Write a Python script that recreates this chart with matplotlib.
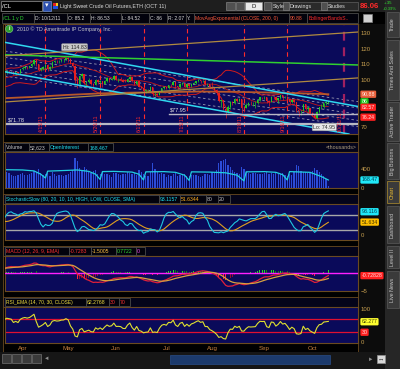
import numpy as np
import pandas as pd
import matplotlib
matplotlib.use('Agg')
import matplotlib.pyplot as plt
from matplotlib.patches import Rectangle

plt.rcParams['font.family'] = ['Liberation Sans', 'DejaVu Sans']

# ---------------- data ----------------
holidays = ['2011-04-22', '2011-05-30', '2011-07-04', '2011-09-05']
first_day = '2011-02-22'
view_start = '2011-03-23'

opens = [91.0, 95.5, 98.0, 97.4, 97.8,
         97.1, 99.7, 101.8, 101.6, 104.6, 105.3, 105.0, 104.3, 102.6, 101.3, 101.0, 97.3, 98.0, 101.5, 101.3, 102.4, 104.8, 105.7, 105.6, 105.3, 104.0, 104.8, 104.3,
         106.8, 107.9, 108.5, 108.4, 108.8, 110.3, 112.6, 109.9, 106.3, 107.1, 108.1, 109.6, 107.1, 108.2, 111.5, 112.2, 112.0, 112.2, 112.8, 112.9,
         113.9, 113.5, 111.1, 109.2, 99.8, 97.2, 102.6, 103.9, 98.2, 99.0, 99.7, 97.4, 96.9, 100.1, 98.4, 99.5, 97.7, 99.6, 101.3, 100.2, 100.6,
         102.7, 100.3, 100.4, 100.2, 99.0, 98.9, 100.7, 101.9, 99.3, 97.3, 99.4, 95.8, 95.0, 93.0, 93.3, 93.4, 95.4, 91.0, 91.2, 90.6, 92.9, 94.8,
         95.4, 94.9, 96.9, 96.7, 98.7, 96.2, 95.2, 97.4, 98.1, 95.7, 97.2, 95.9, 97.5, 98.1, 99.1, 99.9, 99.2, 99.6, 97.4, 97.4,
         95.7, 94.9, 93.8, 91.9, 86.6, 86.9, 81.3, 79.3, 82.9, 85.7, 85.4, 87.9, 86.7, 87.6, 82.4, 82.3, 84.1, 85.4, 85.2, 85.3, 85.4, 87.3, 88.9,
         88.8, 88.9, 86.5, 86.0, 89.3, 89.1, 87.2, 88.2, 90.2, 88.9, 89.4, 88.0, 85.7, 86.9, 85.9, 80.5, 79.9, 80.2, 84.5, 81.2, 82.1,
         79.2, 77.6, 75.7, 79.7, 82.6, 83.0, 85.4, 85.2]
highs = [95.6, 100.1, 103.4, 98.6, 99.0,
         100.2, 102.2, 102.8, 104.9, 106.9, 106.5, 105.9, 105.1, 103.2, 102.3, 101.3, 98.9, 102.0, 103.2, 103.4, 104.5, 106.2, 106.6, 106.0, 105.7, 105.0, 105.3, 107.0,
         108.8, 108.8, 108.9, 109.0, 110.6, 113.0, 113.0, 110.3, 108.0, 108.6, 110.1, 109.9, 108.7, 111.8, 112.6, 112.6, 112.7, 113.0, 113.4, 114.2,
         114.83, 113.8, 111.6, 109.8, 101.8, 103.0, 104.6, 104.1, 99.5, 101.5, 100.6, 98.0, 100.5, 100.8, 100.1, 99.6, 99.9, 101.7, 101.5, 101.3, 103.4,
         102.9, 101.3, 101.6, 100.7, 100.6, 101.0, 102.4, 102.0, 99.5, 99.6, 99.6, 96.0, 95.7, 94.0, 94.4, 95.9, 95.6, 92.0, 91.8, 93.2, 95.0, 96.0,
         95.8, 97.0, 97.6, 99.2, 98.8, 96.4, 97.9, 98.6, 98.2, 97.5, 97.7, 97.8, 98.5, 99.4, 100.3, 100.0, 100.1, 100.6, 98.0, 97.7,
         98.5, 95.5, 93.9, 92.4, 87.4, 87.0, 81.8, 84.0, 86.4, 86.5, 88.2, 88.4, 88.5, 88.0, 83.6, 85.4, 86.1, 86.6, 86.0, 86.3, 87.7, 89.0, 89.4,
         89.8, 89.2, 86.9, 89.6, 89.7, 89.8, 88.6, 90.5, 90.5, 90.0, 89.6, 88.2, 87.6, 87.4, 86.0, 81.0, 80.6, 84.8, 84.7, 83.1, 82.4,
         79.8, 79.2, 80.0, 82.9, 84.6, 85.6, 86.3, 86.53]
lows = [90.8, 95.3, 95.6, 96.7, 96.0,
        96.9, 99.2, 100.1, 101.3, 103.6, 104.1, 103.5, 101.7, 99.0, 98.5, 94.6, 96.1, 97.6, 100.5, 100.9, 101.8, 104.1, 104.6, 104.6, 103.1, 103.0, 103.9, 104.0,
        106.3, 107.3, 106.7, 107.6, 108.1, 109.6, 109.1, 105.4, 105.6, 106.1, 107.3, 105.6, 106.6, 107.9, 111.0, 110.9, 110.8, 111.6, 111.7, 112.6,
        111.3, 110.4, 108.3, 98.3, 94.6, 96.9, 101.2, 97.6, 95.5, 98.3, 96.8, 94.6, 96.5, 97.2, 97.8, 95.7, 97.5, 98.8, 99.0, 99.8, 100.1,
        99.7, 98.5, 99.2, 98.7, 98.4, 98.7, 100.1, 98.9, 96.8, 97.0, 95.6, 94.0, 92.4, 91.4, 92.6, 93.2, 89.7, 89.6, 89.6, 90.3, 92.6, 94.2,
        94.0, 94.0, 95.8, 96.5, 94.9, 94.5, 94.9, 96.6, 95.2, 95.1, 94.8, 95.6, 97.2, 97.6, 98.6, 98.2, 98.9, 96.6, 96.4, 95.0,
        94.6, 93.0, 90.6, 86.2, 82.9, 80.9, 75.7, 79.2, 81.6, 84.0, 84.9, 85.9, 86.2, 79.2, 79.6, 82.0, 83.5, 84.3, 83.3, 82.4, 84.6, 86.6, 87.6,
        87.6, 85.3, 83.3, 85.8, 87.9, 86.5, 85.4, 87.6, 87.5, 88.2, 87.3, 84.7, 85.3, 85.4, 79.6, 77.1, 77.7, 80.0, 80.6, 79.3, 78.4,
        76.9, 74.95, 75.0, 78.9, 81.5, 82.2, 84.3, 84.52]
closes = [95.4, 98.1, 97.3, 97.9, 97.0,
          99.6, 101.9, 101.4, 104.4, 105.4, 105.0, 104.4, 102.7, 101.2, 101.2, 97.2, 98.0, 101.4, 101.1, 102.3, 104.0, 105.8, 105.6, 105.4, 104.0, 104.8, 104.3, 106.7,
          107.9, 108.5, 108.3, 108.8, 110.3, 112.8, 109.9, 106.3, 107.1, 108.1, 109.7, 107.1, 108.2, 111.5, 112.3, 112.0, 112.2, 112.8, 112.9, 113.9,
          113.5, 111.1, 109.2, 99.8, 97.2, 102.6, 103.9, 98.2, 99.0, 99.7, 97.4, 96.9, 100.1, 98.4, 99.5, 97.7, 99.6, 101.3, 100.2, 100.6, 102.7,
          100.3, 100.4, 100.2, 99.0, 98.9, 100.7, 101.9, 99.3, 97.3, 99.4, 95.8, 95.0, 93.0, 93.3, 93.4, 95.4, 91.0, 91.2, 90.6, 92.9, 94.8, 95.4,
          94.9, 96.9, 96.7, 98.7, 96.2, 95.2, 97.4, 98.1, 95.7, 97.2, 95.9, 97.5, 98.1, 99.1, 99.9, 99.2, 99.6, 97.4, 97.4, 95.7,
          94.9, 93.8, 91.9, 86.6, 86.9, 81.3, 79.3, 82.9, 85.7, 85.4, 87.9, 86.7, 87.6, 82.4, 82.3, 84.1, 85.4, 85.2, 85.3, 85.4, 87.3, 88.9, 88.8,
          88.9, 86.5, 86.0, 89.3, 89.1, 87.2, 88.2, 90.2, 88.9, 89.4, 88.0, 85.7, 86.9, 85.9, 80.5, 79.9, 80.2, 84.5, 81.2, 82.1, 79.2,
          77.6, 75.7, 79.7, 82.6, 83.0, 85.4, 85.8, 86.06]
volume = [380, 420, 450, 310, 290,
          330, 350, 300, 340, 360, 290, 280, 300, 330, 320, 400, 350, 330, 280, 260, 300, 340, 310, 270, 250, 260, 270, 300,
          310, 280, 270, 290, 320, 360, 340, 390, 320, 280, 300, 310, 260, 330, 300, 250, 270, 280, 260, 280,
          300, 340, 380, 630, 560, 420, 360, 450, 400, 330, 320, 360, 370, 300, 290, 330, 290, 300, 270, 240, 310,
          320, 300, 280, 290, 300, 330, 310, 300, 320, 280, 380, 340, 300, 260, 250, 330, 520, 400, 330, 300, 310, 290,
          240, 270, 260, 300, 320, 260, 280, 300, 290, 260, 250, 270, 280, 270, 260, 240, 250, 300, 290, 280,
          340, 330, 380, 520, 560, 600, 620, 480, 450, 380, 330, 310, 300, 450, 400, 330, 320, 300, 310, 320, 290, 300, 290,
          310, 340, 300, 320, 300, 330, 290, 300, 310, 270, 260, 300, 280, 330, 480, 470, 360, 340, 330, 310, 320,
          350, 420, 380, 330, 300, 250, 200, 52.6]
oi_dates = ['2011-03-23', '2011-04-01', '2011-04-08', '2011-04-13', '2011-04-15', '2011-04-18', '2011-04-29',
            '2011-05-06', '2011-05-13', '2011-05-18', '2011-05-20', '2011-05-23', '2011-05-31', '2011-06-10',
            '2011-06-15', '2011-06-17', '2011-06-20', '2011-06-30', '2011-07-08', '2011-07-14', '2011-07-18',
            '2011-07-19', '2011-07-29', '2011-08-09', '2011-08-16', '2011-08-19', '2011-08-22', '2011-09-01',
            '2011-09-09', '2011-09-14', '2011-09-16', '2011-09-19', '2011-09-30', '2011-10-07', '2011-10-12']
oi_vals = [385, 380, 360, 290, 210, 355, 370,
           380, 350, 290, 180, 345, 350, 335,
           290, 170, 340, 345, 330, 270, 160, 340, 335, 320, 270, 150, 340, 345,
           330, 280, 170, 345, 330, 240, 168.47]
ema200_dates = ['2011-03-23', '2011-04-08', '2011-04-29', '2011-05-20', '2011-06-10', '2011-07-01',
                '2011-07-22', '2011-08-12', '2011-09-02', '2011-09-23', '2011-10-12']
ema200_vals = [88.4, 89.2, 90.4, 91.4, 91.9, 92.2, 92.6, 92.4, 92.0, 91.5, 90.88]

# drawings on the price panel: (date, price) anchors
cyan_top = [('2011-03-28', 123.0), ('2011-07-20', 102.1)]
cyan_bot = [('2011-03-28', 104.2), ('2011-07-20', 83.4)]
green_line = [('2011-03-23', 116.0), ('2011-10-12', 110.1)]
tan_top = [('2011-04-28', 117.9), ('2011-10-12', 129.3)]
tan_bot = [('2011-03-23', 86.0), ('2011-10-12', 100.0)]
levels = [71.78, 77.95]
level_starts = ['2011-03-23', '2011-07-05']
level_texts = ['$71.78', '$77.95']
expiries = ['2011-04-15', '2011-05-20', '2011-06-17', '2011-07-15', '2011-08-19', '2011-09-16', '2011-10-21']
expiry_labels = ['4/15/11', '5/20/11', '6/17/11', '7/15/11', '8/19/11', '9/16/11', '10/21/11']
hi_date, hi_val = '2011-05-02', 114.83
lo_date, lo_val = '2011-10-04', 74.95
month_names = ['Apr', 'May', 'Jun', 'Jul', 'Aug', 'Sep', 'Oct']

# ---------------- derived series ----------------
cal = pd.bdate_range(first_day, '2011-12-30')
cal = cal[~cal.isin(pd.to_datetime(holidays))]
pos = {d.strftime('%Y-%m-%d'): i for i, d in enumerate(cal)}
n = len(closes)
x = np.arange(n)
o, h, l, c = (pd.Series(v, dtype=float) for v in (opens, highs, lows, closes))

mid = c.rolling(20).mean()
sd = c.rolling(20).std(ddof=0)
ll, hh = l.rolling(10).min(), h.rolling(10).max()
slowk = (100 * (c - ll) / (hh - ll)).rolling(3).mean()
slowd = slowk.rolling(10).mean()
macd = c.ewm(span=12, adjust=False).mean() - c.ewm(span=26, adjust=False).mean()
macd_avg = macd.ewm(span=9, adjust=False).mean()
macd_diff = macd - macd_avg
dlt = c.diff()
up = dlt.clip(lower=0).ewm(span=14, adjust=False).mean()
dn = (-dlt.clip(upper=0)).ewm(span=14, adjust=False).mean()
rsi = 100 * up / (up + dn)

x0 = pos[view_start]
xlim = (x0 - 0.7, n - 1 + 13)
month_idx = [next(i for i, d in enumerate(cal) if d.month == m) for m in range(4, 11)]

# ---------------- figure ----------------
W, H = 400, 369
fig = plt.figure(figsize=(4, 3.69), dpi=100, facecolor='#0c0c0c')
NAVY = '#0a0a5a'
BORDER = '#6a4a20'
TAN = '#c8a050'
HSIZE = 3.7


def rect_px(x_0, y_0, x_1, y_1):
    return [x_0 / W, 1 - y_1 / H, (x_1 - x_0) / W, (y_1 - y_0) / H]


def frect(x_0, y_0, x_1, y_1, fc, ec='none', lw=0.6, z=-5):
    fig.add_artist(Rectangle((x_0 / W, 1 - y_1 / H), (x_1 - x_0) / W, (y_1 - y_0) / H,
                             transform=fig.transFigure, fc=fc, ec=ec, lw=lw, zorder=z))


def ftext(xp, yp, s, **kw):
    kw.setdefault('va', 'center')
    kw.setdefault('size', HSIZE)
    fig.text(xp / W, 1 - yp / H, s, **kw)


def hbox(x_0, x_1, y_0, y_1, s, color, fc='#02020c', ec='#4a4a4a', size=HSIZE):
    frect(x_0, y_0, x_1, y_1, fc, ec, 0.6, z=-2)
    ftext(x_0 + 1.2, (y_0 + y_1) / 2 + 0.3, s, color=color, size=size)


def panel(y_0, y_1):
    ax = fig.add_axes(rect_px(5, y_0, 358, y_1), facecolor=NAVY)
    ax.set_xlim(*xlim)
    for sp in ax.spines.values():
        sp.set_color(BORDER)
        sp.set_linewidth(0.8)
    ax.yaxis.tick_right()
    ax.tick_params(axis='both', length=0, labelsize=4.3, labelcolor=TAN, pad=2)
    ax.tick_params(axis='x', labelbottom=False)
    return ax


def bubble(ax, val, s, fc, tc):
    ax.text(1.01, val, s, transform=ax.get_yaxis_transform(), ha='left', va='center',
            size=3.8, color=tc, clip_on=False,
            bbox=dict(boxstyle='round,pad=0.22', fc=fc, ec='none'))


# outer frame areas
frect(0, 0, 385, 12, '#1e1e1e')
frect(0, 12, 385, 24, '#000000')
frect(3, 24, 358, 352, '#000000', ec=BORDER, lw=0.6)
frect(0, 352, 385, 369, '#161616')
frect(385, 0, 400, 369, '#262626')

# top toolbar
hbox(1, 42, 1, 11, '/CL', '#ffffff', fc='#000000', ec='#808080', size=4.2)
frect(43, 1, 51, 11, '#2c50b0', '#7090d0', 0.5, z=-2)
ftext(47, 6, '\u25be', color='white', size=5, ha='center')
frect(53, 3, 55.5, 6, '#e02020', z=-2)
frect(55.5, 3, 58, 6, '#f0d020', z=-2)
frect(53, 6, 58, 9, '#2050e0', z=-2)
ftext(60, 6.3, 'Light Sweet Crude Oil Futures,ETH (OCT 11)', color='#dcdcdc', size=3.8)
for bx0, bx1 in [(226, 235), (236, 244), (264, 271), (283, 289), (321, 327)]:
    frect(bx0, 2, bx1, 10, '#505050', '#808080', 0.5, z=-2)
frect(245, 2, 262, 10, '#e8e8e8', '#909090', 0.5, z=-2)
ftext(253.5, 6.3, 'D', color='#101010', size=4.2, ha='center')
frect(272, 2, 358, 10, '#2a2a2a', '#606060', 0.5, z=-3)
ftext(272.5, 6.3, 'Style', color='#e0e0e0', size=3.8)
ftext(290, 6.3, 'Drawings', color='#e0e0e0', size=3.8)
ftext(328, 6.3, 'Studies', color='#e0e0e0', size=3.8)
ftext(360, 6.5, '86.06', color='#ff2a2a', size=5.6, weight='bold')
ftext(384, 3.5, '+.35', color='#30e030', size=3.2)
ftext(382.5, 9, '+0.39%', color='#30e030', size=3.0)

# quote row
row2 = [('/CL 1 y D', 2, 34, '#30e030'), ('D: 10/12/11', 34, 67, '#d8d8d8'), ('O: 85.2', 67, 90, '#d8d8d8'),
        ('H: 86.53', 90, 121, '#d8d8d8'), ('L: 84.52', 121, 149, '#d8d8d8'), ('C: 86', 149, 167, '#d8d8d8'),
        ('R: 2.07', 167, 186, '#d8d8d8'), ('Y:', 186, 194, '#d8d8d8'),
        ('MovAvgExponential (CLOSE, 200, 0)', 194, 289, '#ff5a3a'), ('90.88', 289, 307, '#ff5a3a'),
        ('BollingerBandsS..', 307, 358, '#ff2a2a')]
for s, a, b, col in row2:
    hbox(a, b, 13, 23, s, col, size=3.6)
frect(363, 14, 372, 22, '#d0d0d0', '#808080', 0.5, z=-2)

# ---------------- price panel ----------------
axp = panel(24, 134)
axp.set_ylim(65.5, 135.7)
axp.set_yticks([70, 100, 110, 120, 130])

up_day = c >= o
colors = np.where(up_day, '#22c822', '#e82020')
axp.vlines(x, l, h, colors=colors, lw=0.5, zorder=4)
axp.bar(x, (c - o).abs(), bottom=np.minimum(o, c), width=0.62, color=colors, zorder=5)

axp.plot(x, mid, color='#c01818', lw=0.6, zorder=3)
axp.plot(x, mid + 2 * sd, color='#d01c1c', lw=0.7, zorder=3)
axp.plot(x, mid - 2 * sd, color='#d01c1c', lw=0.7, zorder=3)
axp.plot([pos[d] for d in ema200_dates], ema200_vals, color='#b8582a', lw=1.3, zorder=3)

vis = slice(x0, n)
coef = np.polyfit(x[vis], c[vis], 1)
rsd = np.std(c[vis] - np.polyval(coef, x[vis]))
xr = np.array(xlim)
for k in (-2, -1, 0, 1, 2):
    axp.plot(xr, np.polyval(coef, xr) + k * rsd, color='#9898b0', lw=0.6, ls=(0, (3, 3)), zorder=2)

for pts, col, lw in [(cyan_top, '#30d8f0', 1.1), (cyan_bot, '#30d8f0', 1.1), (green_line, '#30d030', 1.1),
                     (tan_top, '#b08a40', 0.9), (tan_bot, '#b08a40', 0.9)]:
    (d1, p1), (d2, p2) = pts
    axp.axline((pos[d1], p1), (pos[d2], p2), color=col, lw=lw, zorder=6)

for lv, st, txt in zip(levels, level_starts, level_texts):
    axp.plot([pos[st], xlim[1]], [lv, lv], color='#b8b8c4', lw=1.6 if lv < 75 else 1.0, zorder=6)
    axp.text(pos[st] + 0.8, lv + 1.0, txt, color='#e0e0e0', size=4.0, va='bottom', zorder=7)

for d, s in zip(expiries, expiry_labels):
    last = d == expiries[-1]
    axp.axvline(pos[d], color='#a02060' if last else '#ff2a2a', lw=1.6 if last else 0.8,
                ls=(0, (4, 3)), zorder=2)
    axp.text(pos[d] - 0.7, 67.0, s, rotation=90, ha='right', va='bottom', color='#ff2a2a',
             size=3.8, zorder=7)

axp.annotate(f'Hi: {hi_val}', (pos[hi_date], hi_val), xytext=(-4, 5), textcoords='offset points',
             size=3.8, color='#202020', va='bottom', zorder=8,
             bbox=dict(boxstyle='round,pad=0.2', fc='#c8c8c8', ec='#909090', lw=0.4))
axp.annotate(f'Lo: {lo_val}', (pos[lo_date], lo_val), xytext=(-1, -4), textcoords='offset points',
             size=3.8, color='#303030', va='top', zorder=8,
             bbox=dict(boxstyle='round,pad=0.2', fc='#e8e8e8', ec='#909090', lw=0.4))

axp.text(0.035, 0.955, '2010 \u00a9 TD Ameritrade IP Company, Inc.', transform=axp.transAxes,
         color='#c8c8c8', size=3.8, va='center')
axp.text(0.012, 0.955, 'i', transform=axp.transAxes, color='white', size=3.4, va='center',
         ha='center', weight='bold', bbox=dict(boxstyle='circle,pad=0.25', fc='#30a030', ec='#80d080', lw=0.4))

bubble(axp, 90.88, '90.88', '#e8603c', '#ffe8e0')
bubble(axp, 86.06, '86', '#18c818', '#ffffff')
bubble(axp, 82.57, '82.57', '#ff2020', '#ffe0e0')
bubble(axp, 76.24, '76.24', '#ff2020', '#ffe0e0')

# ---------------- volume panel ----------------
frect(3, 142, 358, 152, '#04041a', BORDER, 0.6, z=-3)
hbox(5, 29, 143, 151, 'Volume', '#c8c8c8')
hbox(29, 49, 143, 151, '52,623', '#c8c8c8')
hbox(49, 88, 143, 151, 'OpenInterest', '#20e0f0')
hbox(88, 113, 143, 151, '168,467', '#20e0f0')
ftext(357, 147.3, '<thousands>', color='#b0a080', size=3.8, ha='right')

axv = panel(152, 188)
axv.set_ylim(0, 758)
axv.set_yticks([0, 400])
axv.bar(x, volume, width=0.55, color='#2c4cd8', zorder=3)
axv.plot([pos[d] for d in oi_dates], oi_vals, color='#20d0e0', lw=0.9, zorder=4)
bubble(axv, 168.47, '168.47', '#20e8f8', '#004050')

# ---------------- stochastic panel ----------------
frect(3, 194, 358, 204, '#04041a', BORDER, 0.6, z=-3)
hbox(5, 159, 195, 203, 'StochasticSlow (80, 20, 10, 10, HIGH, LOW, CLOSE, SMA)', '#20e0f0', size=3.5)
hbox(159, 180, 195, 203, '93.1157', '#20e0f0')
hbox(180, 206, 195, 203, '51.6344', '#ffb020')
hbox(206, 218, 195, 203, '80', '#c8c8c8')
hbox(218, 230, 195, 203, '20', '#c8c8c8')

axs = panel(204, 240)
axs.set_ylim(-20, 124)
axs.set_yticks([0])
axs.axhline(80, color='#a8a8a8', lw=1.0, zorder=2)
axs.axhline(20, color='#a8a8a8', lw=1.0, zorder=2)
axs.plot(x, slowk, color='#20c8e0', lw=0.8, zorder=4)
axs.plot(x, slowd, color='#e0a020', lw=0.8, zorder=3)
bubble(axs, 93.116, '93.116', '#20e8f8', '#004050')
bubble(axs, 51.634, '51.634', '#ffc000', '#403000')

# ---------------- MACD panel ----------------
frect(3, 246, 358, 256, '#04041a', BORDER, 0.6, z=-3)
hbox(5, 69, 247, 255, 'MACD (12, 26, 9, EMA)', '#ff3030')
hbox(69, 91, 247, 255, '-0.7283', '#ff3030')
hbox(91, 116, 247, 255, '-1.5005', '#ffc040')
hbox(116, 136, 247, 255, '0.7722', '#30e030')
hbox(136, 145, 247, 255, '0', '#ff40ff')

axm = panel(256, 291)
axm.set_ylim(-5, 4.72)
axm.set_yticks([-5])
grow = macd_diff.diff() >= 0
hist_cols = np.where(macd_diff >= 0, np.where(grow, '#20e020', '#108010'),
                     np.where(grow, '#901030', '#ff2040'))
axm.bar(x, macd_diff, width=0.35, color=hist_cols, zorder=3)
axm.axhline(0, color='#ff20ff', lw=1.0, zorder=4)
axm.plot(x, macd, color='#e0203a', lw=0.9, zorder=5)
axm.plot(x, macd_avg, color='#d8a040', lw=0.9, zorder=5)
bubble(axm, -0.72828, '-0.72828', '#ff2020', '#ffe0e0')

# ---------------- RSI panel ----------------
frect(3, 297, 358, 307, '#04041a', BORDER, 0.6, z=-3)
hbox(5, 86, 298, 306, 'RSI_EMA (14, 70, 30, CLOSE)', '#f0e040', size=3.5)
hbox(86, 109, 298, 306, '62.2768', '#f0e040')
hbox(109, 119, 298, 306, '30', '#ff3030')
hbox(119, 130, 298, 306, '70', '#ff3030')

axr = panel(307, 343)
axr.set_ylim(-3, 107.5)
axr.set_yticks([0, 100])
axr.axhline(70, color='#e01030', lw=0.9, zorder=2)
axr.axhline(30, color='#e01030', lw=0.9, zorder=2)
axr.plot(x, rsi, color='#e0e030', lw=0.8, zorder=4)
bubble(axr, 62.277, '62.277', '#ffff30', '#404000')
bubble(axr, 30, '30', '#ff2020', '#ffe0e0')
axr.set_xticks(month_idx)
axr.set_xticklabels(month_names)
axr.tick_params(axis='x', labelbottom=True, labelcolor='#c88040', labelsize=4.4, pad=2.5)

# ---------------- bottom toolbar ----------------
for bx in [2, 12, 22, 32]:
    frect(bx, 354, bx + 9, 363, '#3a3a3a', '#707070', 0.5, z=-2)
ftext(47, 358.5, '\u25c4', color='#909090', size=4, ha='center')
frect(170, 355, 330, 364, '#1c3a6c', '#284c88', 0.5, z=-2)
ftext(371, 359, '\u25ba', color='#909090', size=4, ha='center')
frect(377, 355, 385, 363, '#d8d8d8', '#909090', 0.5, z=-2)
ftext(381, 359, '\u2194', color='#202020', size=4.5, ha='center')

# ---------------- side tabs ----------------
tabs = [('Trade', 12, 37), ('Times And Sales', 40, 100), ('Active Trader', 102, 141),
        ('Big Buttons', 143, 179), ('Chart', 181, 203), ('Dashboard', 206, 243),
        ('Level II', 246, 268), ('Live News', 271, 308)]
for s, a, b in tabs:
    sel = s == 'Chart'
    frect(386.5, a, 398.5, b, '#3a3a3a', '#b09030' if sel else '#5a5a5a', 0.5, z=-2)
    ftext(392.5, (a + b) / 2, s, color='#f0c030' if sel else '#c8c8c8', size=3.8,
          rotation=90, ha='center', va='center')

fig.savefig('out.png', dpi=100, facecolor=fig.get_facecolor())
